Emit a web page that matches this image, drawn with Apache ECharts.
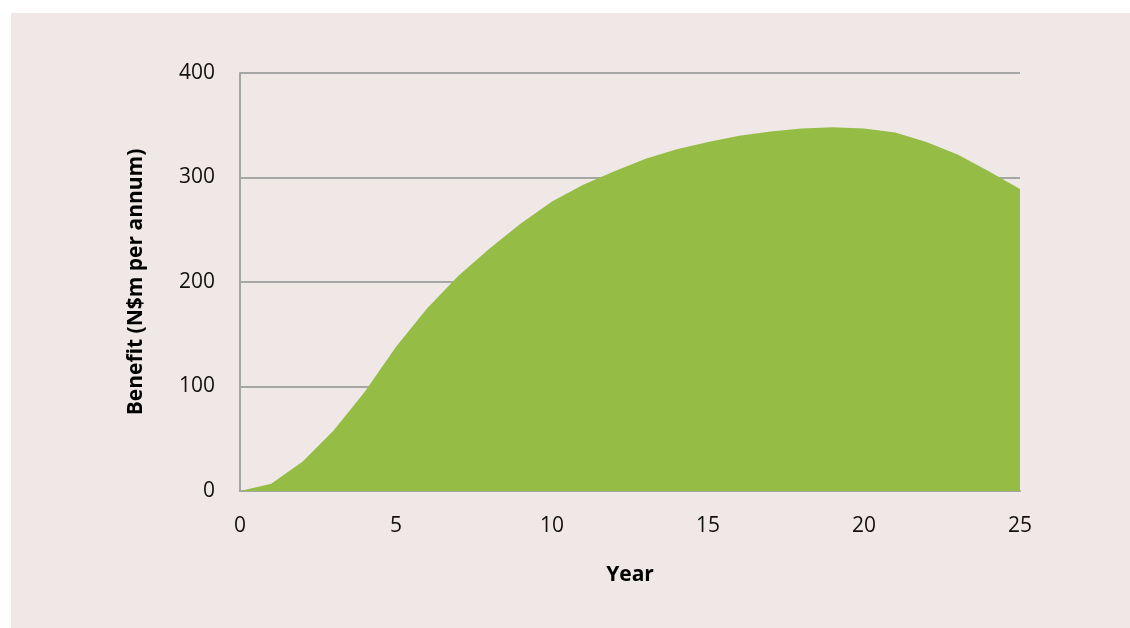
<!DOCTYPE html>
<html>
<head>
<meta charset="utf-8">
<script src="https://cdn.jsdelivr.net/npm/echarts@6/dist/echarts.min.js"></script>
<style>
  html, body { margin: 0; padding: 0; background: #ffffff; }
  #panel { position: absolute; left: 11px; top: 13px; right: 0; bottom: 0; background: #f0e8e6; }
  #chart { position: absolute; left: 0; top: 0; width: 1130px; height: 628px; }
</style>
</head>
<body>
<div id="panel"></div>
<div id="chart"></div>
<script>
// Annual benefit over the project life (N$m per annum)
const years = [0, 1, 2, 3, 4, 5, 6, 7, 8, 9, 10, 11, 12, 13, 14, 15, 16, 17, 18, 19, 20, 21, 22, 23, 24, 25];
const benefit = [0, 7, 28, 58, 95, 138, 175, 206, 232, 256, 277, 293, 306, 318, 327, 334, 340, 344, 347, 348, 347, 343, 334, 322, 306, 289];
const xTicks = [0, 5, 10, 15, 20, 25];
const yTicks = [0, 100, 200, 300, 400];

const font = "'Open Sans', 'Noto Sans', sans-serif";
const chart = echarts.init(document.getElementById('chart'), null, { renderer: 'canvas' });

chart.setOption({
  backgroundColor: 'transparent',
  animation: false,
  grid: { left: 240, right: 110, top: 73, bottom: 137 },
  xAxis: {
    type: 'value',
    min: xTicks[0],
    max: xTicks[xTicks.length - 1],
    interval: 5,
    name: 'Year',
    nameLocation: 'middle',
    nameGap: 74,
    nameTextStyle: { fontFamily: font, fontSize: 21, fontWeight: 'bold', color: '#000' },
    axisLine: { show: true, lineStyle: { color: '#a6a6a6', width: 2 } },
    axisTick: { show: false },
    splitLine: { show: false },
    axisLabel: { fontFamily: font, fontSize: 21, color: '#111', margin: 25 }
  },
  yAxis: {
    type: 'value',
    min: yTicks[0],
    max: yTicks[yTicks.length - 1],
    interval: 100,
    name: 'Benefit (N$m per annum)',
    nameLocation: 'middle',
    nameGap: 93,
    nameTextStyle: { fontFamily: font, fontSize: 21, fontWeight: 'bold', color: '#000' },
    axisLine: { show: true, lineStyle: { color: '#a6a6a6', width: 2 } },
    axisTick: { show: false },
    splitLine: { show: true, lineStyle: { color: '#a6a6a6', width: 2 } },
    axisLabel: { fontFamily: font, fontSize: 21, color: '#111', margin: 25 }
  },
  series: [{
    type: 'line',
    data: years.map((y, i) => [y, benefit[i]]),
    showSymbol: false,
    lineStyle: { width: 0 },
    areaStyle: { color: '#95bd46', opacity: 1 },
    z: 3
  }]
});
</script>
</body>
</html>
